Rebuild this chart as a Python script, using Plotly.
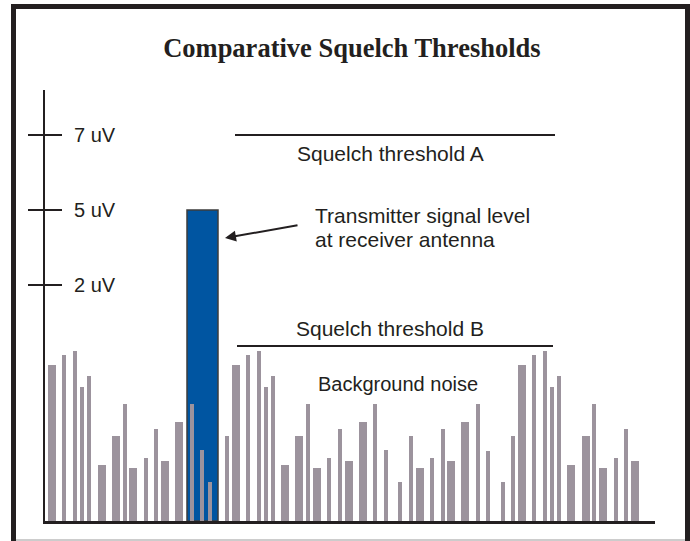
import plotly.graph_objects as go

# ---- data (schematic level units; tick labels give the real uV meaning) ----
noise_pos = [7, 19, 30, 37, 44, 57, 71, 80, 88, 101, 111, 120, 134, 147, 157, 165,
             182, 191, 203, 214, 221, 228, 240, 254, 263, 272, 284, 295, 304, 318, 330,
             341, 355, 366, 375, 387, 398, 406, 420, 433, 443, 458, 468, 477, 489, 500,
             507, 514, 526, 541, 549, 558, 571, 581, 590]
noise_level = [156, 166, 170, 134, 145, 56, 85, 117, 53, 63, 92, 60, 99, 117, 71, 39,
               85, 156, 166, 170, 134, 145, 56, 85, 117, 53, 63, 92, 60, 99, 117,
               71, 39, 85, 53, 63, 92, 60, 99, 117, 70, 39, 85, 156, 166, 170,
               134, 145, 56, 85, 117, 53, 63, 92, 60]
noise_width = [8, 4, 4, 4, 4, 8, 8, 4, 8, 4, 4, 8, 8, 4, 4, 4,
               4, 8, 4, 4, 4, 4, 8, 8, 4, 8, 4, 4, 8, 8, 4,
               4, 4, 4, 8, 4, 4, 8, 8, 4, 4, 4, 4, 8, 4, 4,
               4, 4, 8, 8, 4, 8, 4, 4, 8]

signal_pos = [157.5]
signal_level = [311]
signal_width = [31]

threshold_names = ["Squelch threshold A", "Squelch threshold B"]
threshold_level = [386, 175]
threshold_start = [190, 192]
threshold_end = [510, 508]

tick_vals = [236, 311, 386]
tick_text = ["2 uV", "5 uV", "7 uV"]

# ---- styles ----
INK = "#231f20"
GRAY = "#9c939d"
BLUE = "#0055a1"
SANS = "Liberation Sans, Arial, sans-serif"
SERIF = "Liberation Serif, Times New Roman, serif"

# layout geometry (pixels)
W, H = 690, 541
ML, MR, MT, MB = 45, 35, 90, 20
PW, PH = W - ML - MR, H - MT - MB


def fx(px):
    return (px - ML) / PW


def fy(py):
    return (H - MB - py) / PH


fig = go.Figure()

fig.add_trace(go.Bar(x=signal_pos, y=signal_level, width=signal_width,
                     marker=dict(color=BLUE, line=dict(color="#3c3c3c", width=1.5)),
                     hoverinfo="skip", showlegend=False))
fig.add_trace(go.Bar(x=noise_pos, y=noise_level, width=noise_width,
                     marker=dict(color=GRAY, line=dict(width=0)),
                     hoverinfo="skip", showlegend=False))

for name, lvl, x0, x1 in zip(threshold_names, threshold_level, threshold_start, threshold_end):
    fig.add_trace(go.Scatter(x=[x0, x1], y=[lvl, lvl], mode="lines",
                             line=dict(color=INK, width=2), name=name,
                             hoverinfo="skip", showlegend=False))

# dummy trace so the second (inside-tick) y axis is drawn
fig.add_trace(go.Scatter(x=[0], y=[0], yaxis="y2", mode="markers",
                         marker=dict(opacity=0), hoverinfo="skip", showlegend=False))

annotations = [
    dict(x=(threshold_start[0] + threshold_end[0]) / 2 - 5, y=threshold_level[0] - 18,
         text=threshold_names[0], showarrow=False, xanchor="center", yanchor="middle",
         font=dict(family=SANS, size=21, color=INK)),
    dict(x=(threshold_start[1] + threshold_end[1]) / 2 - 5, y=threshold_level[1] + 18,
         text=threshold_names[1], showarrow=False, xanchor="center", yanchor="middle",
         font=dict(family=SANS, size=21, color=INK)),
    dict(x=268, y=306, text="Transmitter signal level", showarrow=False,
         xanchor="left", yanchor="middle", font=dict(family=SANS, size=21, color=INK)),
    dict(x=268, y=282, text="at receiver antenna", showarrow=False,
         xanchor="left", yanchor="middle", font=dict(family=SANS, size=21, color=INK)),
    dict(x=353, y=137, text="Background noise", showarrow=False,
         xanchor="center", yanchor="middle", font=dict(family=SANS, size=20, color=INK)),
    dict(x=signal_pos[0] + signal_width[0] / 2 + 7, y=283, ax=254, ay=296,
         xref="x", yref="y", axref="x", ayref="y", text="", showarrow=True,
         arrowhead=2, arrowsize=1.1, arrowwidth=2, arrowcolor=INK),
]

shapes = [
    dict(type="line", xref="paper", yref="paper", x0=fx(13.5), x1=fx(13.5),
         y0=fy(4), y1=fy(541), line=dict(color=INK, width=5)),
    dict(type="line", xref="paper", yref="paper", x0=fx(11), x1=fx(690),
         y0=fy(6.5), y1=fy(6.5), line=dict(color=INK, width=5)),
    dict(type="line", xref="paper", yref="paper", x0=fx(687.5), x1=fx(687.5),
         y0=fy(4), y1=fy(541), line=dict(color=INK, width=5)),
    dict(type="line", xref="paper", yref="paper", x0=fx(16), x1=fx(685),
         y0=fy(540), y1=fy(540), line=dict(color="#9a9a9a", width=1)),
]

fig.update_layout(
    width=W, height=H, autosize=False,
    margin=dict(l=ML, r=MR, t=MT, b=MB, pad=0),
    paper_bgcolor="white", plot_bgcolor="white",
    barmode="overlay", bargap=0,
    title=dict(text="<b>Comparative Squelch Thresholds</b>", x=0.51, y=1 - 48 / H,
               xref="container", yref="container", xanchor="center", yanchor="middle",
               font=dict(family=SERIF, size=26.5, color=INK)),
    xaxis=dict(range=[0, PW], showline=True, linecolor=INK, linewidth=2.5,
               showticklabels=False, ticks="", showgrid=False, zeroline=False,
               fixedrange=True),
    yaxis=dict(range=[0, PH], showline=True, linecolor=INK, linewidth=2.5,
               ticks="outside", ticklen=15, tickwidth=1.5, tickcolor=INK,
               tickvals=tick_vals, showticklabels=False, showgrid=False,
               zeroline=False, fixedrange=True),
    yaxis2=dict(range=[0, PH], overlaying="y", side="left", anchor="x",
                showline=False, ticks="inside", ticklen=17, tickwidth=1.5,
                tickcolor=INK, tickvals=tick_vals, ticktext=tick_text,
                ticklabelposition="inside", ticklabelstandoff=13,
                tickfont=dict(family=SANS, size=20, color=INK),
                showgrid=False, zeroline=False, fixedrange=True),
    annotations=annotations,
    shapes=shapes,
)

fig.write_html("out.html",
               config={"displayModeBar": False, "staticPlot": True},
               post_script="document.body.style.margin='0';document.body.style.overflow='hidden';")
